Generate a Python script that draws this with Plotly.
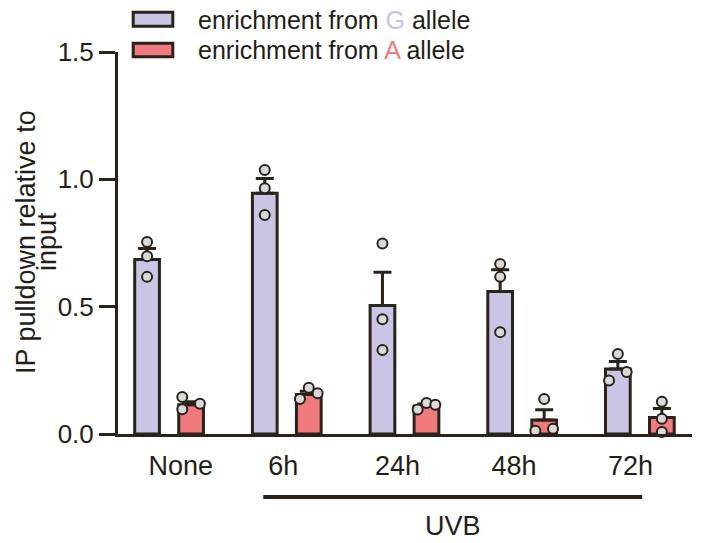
import plotly.graph_objects as go

# ---------------- data ----------------
categories = ["None", "6h", "24h", "48h", "72h"]
g_means = [0.685, 0.945, 0.505, 0.56, 0.255]
g_sem = [0.043, 0.058, 0.13, 0.085, 0.03]
a_means = [0.115, 0.155, 0.11, 0.055, 0.065]
a_sem = [0.012, 0.013, 0.008, 0.04, 0.035]
g_points = [[0.754, 0.698, 0.617], [1.037, 0.965, 0.86], [0.748, 0.451, 0.33],
            [0.668, 0.617, 0.40], [0.314, 0.243, 0.21]]
a_points = [[0.145, 0.097, 0.119], [0.182, 0.137, 0.16], [0.096, 0.122, 0.115],
            [0.137, 0.013, 0.021], [0.127, 0.06, 0.008]]
g_jitter = [[0, 0, 0], [0, 0, 0], [0, 0, 0], [0, 0, 0], [0, 1, -1]]
a_jitter = [[-1, -1, 1], [0, -1, 1], [-1, 0, 1], [0, -1, 1], [0, 0, 0]]
y_ticks = [0.0, 0.5, 1.0, 1.5]
y_tick_labels = ["0.0", "0.5", "1.0", "1.5"]
legend_g = "enrichment from <span style='color:#c9c3e6'>G</span> allele"
legend_a = "enrichment from <span style='color:#f07a7e'>A</span> allele"
y_title_lines = ["IP pulldown relative to", "input"]
bracket_label = "UVB"
bracket_start, bracket_end = "6h", "72h"

# ---------------- style ----------------
DARK = "#2a231b"
TEXT = "#231e18"
G_FILL = "#cbc4e4"
A_FILL = "#f07a7e"
PT_FILL = "#d9d9d9"
FONT = "Liberation Sans, Arial, sans-serif"
OFFSET = 0.187
BAR_W = 0.21
JIT = 0.075
label_shift = [0.10, -0.03, -0.06, -0.07, -0.08]

W, H = 702, 543
ML, MR, MT, MB = 118, 10, 52, 109
PW, PH = W - ML - MR, H - MT - MB


def px(x):
    return (x - ML) / PW


def py(y):
    return (H - MB - y) / PH


idx = list(range(len(categories)))
fig = go.Figure()

for means, sem, fill, sign in [(g_means, g_sem, G_FILL, -1), (a_means, a_sem, A_FILL, 1)]:
    fig.add_trace(go.Bar(
        x=[i + sign * OFFSET for i in idx], y=means, width=[BAR_W] * len(idx),
        marker=dict(color=fill, line=dict(color=DARK, width=3)),
        error_y=dict(type="data", array=sem, arrayminus=[0] * len(sem), symmetric=False,
                     thickness=3, width=9, color=DARK),
        showlegend=False, hoverinfo="skip",
    ))

for pts, jit, sign in [(g_points, g_jitter, -1), (a_points, a_jitter, 1)]:
    xs, ys = [], []
    for i, (vals, js) in enumerate(zip(pts, jit)):
        for v, j in zip(vals, js):
            xs.append(i + sign * OFFSET + j * JIT)
            ys.append(v)
    fig.add_trace(go.Scatter(
        x=xs, y=ys, mode="markers", cliponaxis=False,
        marker=dict(size=10, color=PT_FILL, line=dict(color=DARK, width=2)),
        showlegend=False, hoverinfo="skip",
    ))

shapes = []
annotations = []
# legend
for (y0, y1, yc), fill, label in [((12.2, 26.2, 19.5), G_FILL, legend_g),
                                   ((43.2, 56.8, 50.0), A_FILL, legend_a)]:
    shapes.append(dict(type="rect", xref="paper", yref="paper",
                       x0=px(133.2), x1=px(172.8), y0=py(y1), y1=py(y0),
                       fillcolor=fill, line=dict(color=DARK, width=3)))
    annotations.append(dict(xref="paper", yref="paper", x=px(196), y=py(yc),
                            xanchor="left", yanchor="middle", showarrow=False,
                            text=label, font=dict(size=25, color=TEXT, family=FONT)))

# y-axis title (two lines, tight spacing)
for txt, xc in zip(y_title_lines, [26, 47]):
    annotations.append(dict(xref="paper", yref="paper", x=px(xc), y=py(242),
                            xanchor="center", yanchor="middle", textangle=-90,
                            showarrow=False, text=txt,
                            font=dict(size=27, color=TEXT, family=FONT)))

# UVB bracket
bx0 = categories.index(bracket_start) - 0.2
bx1 = categories.index(bracket_end) + 0.02
shapes.append(dict(type="line", xref="x", yref="paper", x0=bx0, x1=bx1,
                   y0=py(497), y1=py(497), line=dict(color=DARK, width=4)))
annotations.append(dict(xref="x", yref="paper", x=(bx0 + bx1) / 2, y=py(526),
                        xanchor="center", yanchor="middle", showarrow=False,
                        text=bracket_label, font=dict(size=27, color=TEXT, family=FONT)))

fig.update_layout(
    width=W, height=H, margin=dict(l=ML, r=MR, t=MT, b=MB),
    paper_bgcolor="white", plot_bgcolor="white",
    barmode="overlay", showlegend=False,
    font=dict(family=FONT, color=TEXT),
    shapes=shapes, annotations=annotations,
    xaxis=dict(range=[-0.434, 4.443], showgrid=False, zeroline=False,
               showline=True, linecolor=DARK, linewidth=3,
               tickmode="array", tickvals=[i + s for i, s in zip(idx, label_shift)],
               ticktext=categories, ticks="", ticklabelstandoff=6,
               tickfont=dict(size=27, color=TEXT, family=FONT)),
    yaxis=dict(range=[0, 1.5], showgrid=False, zeroline=False,
               showline=True, linecolor=DARK, linewidth=3,
               tickmode="array", tickvals=y_ticks, ticktext=y_tick_labels,
               ticks="outside", ticklen=16, tickwidth=3, tickcolor=DARK,
               tickfont=dict(size=26, color=TEXT, family=FONT)),
)

fig.write_html("out.html")
